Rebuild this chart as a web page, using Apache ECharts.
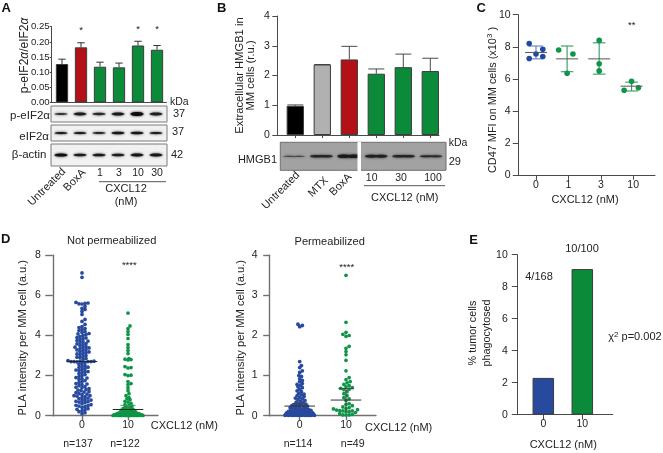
<!DOCTYPE html>
<html><head><meta charset="utf-8">
<style>html,body{margin:0;padding:0;background:#fff}#c{width:663px;height:453px}</style>
<script src="https://cdn.jsdelivr.net/npm/echarts@6/dist/echarts.min.js"></script></head>
<body><div id="c"></div>
<script>
// ---------- data ----------
const aLanes=['Untreated','BoxA','1','3','10','30'];
const aValues=[0.127,0.182,0.118,0.116,0.188,0.174];
const aErrTop=[0.143,0.197,0.133,0.130,0.202,0.188];
const aBlotP=[0.5,0.72,0.6,0.75,1,0.72];
const aBlotE=[0.75,0.75,0.65,0.85,0.85,0.75];
const aBlotB=[0.95,0.75,0.8,0.75,0.85,0.85];
const bLanes=['Untreated','MTX','BoxA','10','30','100'];
const bValues=[0.98,2.37,2.54,2.06,2.28,2.15];
const bErrTop=[1.01,2.37,2.98,2.22,2.72,2.58];
const bBlot=[0.35,0.7,1,0.8,0.7,0.62];
const cTicks=['0','1','3','10'];
const cPtsX=[-0.21,0.21,0,-0.21,0.21, 0.70,1.14,0.96, 1.95,1.95,1.95, 2.72,3.16,2.95];
const cPtsY=[8.2,7.85,7.55,7.27,7.4, 7.8,7.55,6.35, 8.4,6.95,6.5, 5.3,5.45,5.85];
const cMeans=[7.65,7.25,7.25,5.55];
const cHigh=[8.05,8.05,8.25,5.8];
const cLow=[7.25,6.45,6.3,5.25];
const cMeanX=[0,0.96,1.95,2.95];
const dLeft0=[7.12,6.9,5.65,5.62,5.6,5.58,5.57,5.45,5.35,5.3,5.2,5.05,4.8,4.7,4.55,4.45,4.4,4.35,4.3,4.25,4.2,4.15,4.1,4.08,4.05,4.0,3.95,3.9,3.88,3.85,3.8,3.75,3.72,3.7,3.65,3.6,3.58,3.55,3.5,3.45,3.42,3.4,3.38,3.35,3.3,3.28,3.25,3.2,3.18,3.15,3.1,3.08,3.05,3.0,2.95,2.92,2.9,2.85,2.8,2.75,2.72,2.72,2.7,2.7,2.7,2.7,2.68,2.65,2.6,2.55,2.5,2.45,2.42,2.4,2.35,2.3,2.28,2.25,2.2,2.2,2.15,2.1,2.05,2.0,1.95,1.9,1.88,1.85,1.8,1.75,1.7,1.65,1.6,1.58,1.55,1.5,1.45,1.42,1.4,1.35,1.3,1.28,1.25,1.2,1.18,1.15,1.1,1.08,1.05,1.0,1.0,0.98,0.95,0.9,0.88,0.85,0.8,0.78,0.75,0.72,0.7,0.68,0.65,0.6,0.55,0.5,0.48,0.45,0.42,0.35,0.3,0.25,0.2,0.15,0.1,0.32,0.52];
const dLeft10=[5.12,4.48,4.35,4.2,4.05,3.85,3.55,3.4,3.25,3.1,2.85,2.82,2.8,2.78,2.45,2.4,2.38,2.05,2.02,2.0,1.7,1.6,1.55,1.4,1.25,1.1,1.0,0.9,0.85,0.8,0.72,0.68,0.62,0.55,0.52,0.48,0.44,0.42,0.4,0.38,0.35,0.34,0.32,0.3,0.28,0.27,0.25,0.24,0.22,0.21,0.2,0.19,0.18,0.17,0.16,0.15,0.15,0.14,0.14,0.13,0.13,0.12,0.12,0.11,0.11,0.1,0.1,0.1,0.1,0.09,0.09,0.09,0.08,0.08,0.08,0.08,0.07,0.07,0.07,0.07,0.06,0.06,0.06,0.06,0.06,0.05,0.05,0.05,0.05,0.05,0.04,0.04,0.04,0.04,0.04,0.03,0.03,0.03,0.03,0.03,0.03,0.02,0.02,0.02,0.02,0.02,0.02,0.02,0.02,0.01,0.01,0.01,0.01,0.01,0.01,0.01,0.01,0.01,0.01,0.01,0.01,0.01];
const dRight0=[2.28,2.25,2.22,1.35,1.25,1.2,1.12,1.08,1.0,0.98,0.92,0.88,0.85,0.8,0.78,0.76,0.72,0.7,0.66,0.62,0.6,0.56,0.54,0.52,0.5,0.48,0.46,0.44,0.42,0.4,0.38,0.36,0.34,0.32,0.3,0.29,0.28,0.27,0.26,0.25,0.24,0.23,0.22,0.21,0.2,0.19,0.18,0.17,0.17,0.16,0.15,0.15,0.14,0.14,0.13,0.13,0.12,0.12,0.11,0.11,0.1,0.1,0.1,0.09,0.09,0.09,0.08,0.08,0.08,0.08,0.07,0.07,0.07,0.07,0.06,0.06,0.06,0.06,0.05,0.05,0.05,0.05,0.05,0.04,0.04,0.04,0.04,0.04,0.03,0.03,0.03,0.03,0.03,0.03,0.02,0.02,0.02,0.02,0.02,0.02,0.02,0.02,0.01,0.01,0.01,0.01,0.01,0.01,0.01,0.01,0.01,0.01,0.01,0.01];
const dRight10=[3.5,2.33,2.08,2.03,2.0,1.98,1.73,1.68,1.6,1.52,1.38,1.12,0.95,0.9,0.85,0.82,0.78,0.75,0.72,0.7,0.68,0.66,0.65,0.6,0.55,0.5,0.45,0.42,0.38,0.3,0.28,0.25,0.22,0.2,0.18,0.17,0.15,0.14,0.13,0.12,0.12,0.1,0.1,0.08,0.05,0.03,0.02,0.02,0.02];
const dTicks=['0','10'];
const dLeftMeans=[2.7,0.31];
const dLeftGreen=[0.22,0.52];
const dRightMeans=[0.24,0.39];
const dRightSd=[[0.18,0.3],[0.1,0.68]];
const eTicks=['0','10'];
const eValues=[2.3,9.1];

// ---------- colours ----------
const BLACK='#000',RED='#b21217',GREEN='#0b8a3a',GRAY='#b1b1b1',BLUE='#274a9e',INK='#232323',AX='#4a4a4a',EDGE='#3c3c3c';
const GRN2='#0f9547',BLU2='#2347a5';
const FF='"Liberation Sans",Arial,sans-serif';

// ---------- layout helpers ----------
const grid=[],xAxis=[],yAxis=[],series=[],graphic=[];
function panel(o){
  const i=grid.length, unit=o.band;
  grid.push({left:o.l,top:o.top,width:o.r-o.l,height:o.y0-o.top,show:!!o.bg,backgroundColor:o.bg||'transparent',borderColor:o.border||'#8a8a8a',borderWidth:o.bg?1:0});
  const min=(o.l-o.c0)/unit,max=(o.r-o.c0)/unit;
  const vals=(o.ticks||[]).map((_,k)=>k);
  const lw=o.alw||1;
  xAxis.push({gridIndex:i,type:'value',min,max,show:!o.bg,splitLine:{show:false},
    axisLine:{onZero:false,lineStyle:{color:o.axc||AX,width:lw}},
    axisTick:{show:!!o.tickX,length:o.xtl||4,lineStyle:{color:o.axc||AX,width:lw},customValues:vals},
    axisLabel:{show:!!o.ticks&&!o.noLab,fontSize:o.fs||10.5,color:INK,fontFamily:FF,margin:o.xm||5,customValues:vals,showMinLabel:true,showMaxLabel:true,hideOverlap:false,formatter:v=>(o.ticks||[])[Math.round(v)]||''}});
  yAxis.push({gridIndex:i,type:'value',min:o.ymin||0,max:o.ymax,interval:o.step,show:!o.bg,splitLine:{show:false},
    axisLine:{show:true,onZero:false,lineStyle:{color:o.axc||AX,width:lw}},
    axisTick:{show:true,length:o.ytl||5,lineStyle:{color:o.axc||AX,width:lw}},
    axisLabel:{fontSize:o.yfs||10.5,color:INK,fontFamily:FF,margin:o.ym||8,formatter:o.yfmt}});
  return i;
}
function bars(g,vals,cols,w,edge){
  series.push({type:'bar',xAxisIndex:g,yAxisIndex:g,barWidth:w,z:3,silent:true,
    data:vals.map((v,i)=>({value:[i,v],itemStyle:{color:cols[i],borderColor:edge||EDGE,borderWidth:1}}))});
}
function range(g,rows,color,cap,lw,z){ // rows: [x,lo,hi]
  series.push({type:'custom',xAxisIndex:g,yAxisIndex:g,z:z||4,silent:true,clip:false,
    encode:{x:0,y:[1,2]},data:rows,
    renderItem(p,api){
      const a=api.coord([api.value(0),api.value(1)]),b=api.coord([api.value(0),api.value(2)]);
      const st={stroke:color,lineWidth:lw||1,fill:null};
      const ch=[{type:'line',shape:{x1:b[0]-cap,y1:b[1],x2:b[0]+cap,y2:b[1]},style:st}];
      if(a[1]!==b[1]){ch.push({type:'line',shape:{x1:a[0],y1:a[1],x2:b[0],y2:b[1]},style:st});}
      return {type:'group',children:ch};
    }});
}
function topBars(vals,tops){return vals.map((v,i)=>[i,v,tops[i]]);}
function blot(g,intens,w,h,lobes,ink){
  series.push({type:'custom',xAxisIndex:g,yAxisIndex:g,z:3,silent:true,clip:true,
    encode:{x:0,y:1},data:intens.map((v,i)=>[i,0.5,v]),
    renderItem(p,api){
      const c=api.coord([api.value(0),api.value(1)]),v=api.value(2);
      const kids=[];
      const n=lobes||1;
      for(let k=0;k<n;k++){
        const dx=n>1?(k-(n-1)/2)*w*0.55:0, rx=(n>1?w*0.36:w/2), ry=h*v/2;
        kids.push({type:'ellipse',shape:{cx:c[0]+dx,cy:c[1],rx,ry},
          style:{fill:ink||'#0d0d0d',opacity:0.4+0.6*v,shadowBlur:2.5,shadowColor:ink||'#0d0d0d'}});
      }
      return {type:'group',children:kids};
    }});
}
// beeswarm layout: the allowed half-width narrows with the value (decay, in axis units)
function swarm(values,cx,pxY,pxX,d,capPx,decay){
  const placed=[],sorted=[...values].sort((a,b)=>a-b);
  sorted.forEach(v=>{
    const y=v*pxY;let best=null,bestD=-1;
    const cap=decay?Math.max(2.4,capPx*Math.exp(-v/decay)):capPx;
    for(let k=0;k<=Math.ceil(cap/(d/3))*2;k++){
      const off=(k%2?1:-1)*Math.ceil(k/2)*(d/3);
      let m=1e9;placed.forEach(q=>{m=Math.min(m,Math.hypot(q[0]-off,q[1]-y));});
      if(m>=d){best=off;bestD=m;break;}
      if(m>bestD){bestD=m;best=off;}
    }
    placed.push([best,y]);
  });
  return placed.map(q=>[cx+q[0]/pxX,q[1]/pxY]);
}
function dots(g,pts,color,size){
  series.push({type:'scatter',xAxisIndex:g,yAxisIndex:g,z:3,silent:true,clip:false,symbolSize:size,
    itemStyle:{color,opacity:1},data:pts});
}
function T(text,x,y,o){o=o||{};
  graphic.push({type:'text',x,y,rotation:o.rot||0,z:20,silent:true,style:{text,fontFamily:FF,fontSize:o.fs||10.5,
    fontWeight:o.bold?'bold':'normal',fill:o.color||INK,align:o.align||'center',verticalAlign:'middle',lineHeight:o.lh,rich:o.rich}});
}
function L(x1,y1,x2,y2,c,w){graphic.push({type:'line',z:20,silent:true,shape:{x1,y1,x2,y2},style:{stroke:c||AX,lineWidth:w||1}});}
const UP=Math.PI/2,DIAG=Math.PI/4;

// ---------- Panel A ----------
const gA=panel({l:51.7,r:166.5,c0:62,band:19,top:26.7,y0:102.5,ymax:0.25,step:0.05,yfs:9.6,ytl:2,ym:2,yfmt:v=>v.toFixed(2)});
bars(gA,aValues,[BLACK,RED,GREEN,GREEN,GREEN,GREEN],12.3);
range(gA,topBars(aValues,aErrTop),'#333',3.7,1,2);
const aCfg=[[106,122,aBlotP,4],[125,141,aBlotE,3],[144,166,aBlotB,3.4]];
aCfg.forEach(c=>{const g=panel({l:51,r:167,c0:61,band:19,top:c[0],y0:c[1],ymax:1,step:1,bg:'#f1f1f1',border:'#7b7b7b'});blot(g,c[2],13,c[3],1);});
const itRich={i:{fontStyle:'italic',fontSize:12,fontFamily:FF,fill:INK}};
T('p-eIF2{i|α}/eIF2{i|α}',24.5,55.5,{rot:UP,fs:12,rich:itRich});
[1,4,5].forEach((k,i)=>T('*',62+19*k,[30.5,29.5,29.5][i],{fs:9.5}));
T('kDa',170,101.7,{align:'left',fs:10.5});
T('p-eIF2α',50,115.7,{align:'right',fs:11.5});
T('eIF2α',49,136.7,{align:'right',fs:11.5});
T('β-actin',46.5,155,{align:'right',fs:11.5});
T('37',173,114,{align:'left',fs:11});T('37',172,132,{align:'left',fs:11});T('42',171,155,{align:'left',fs:11});
T(aLanes[0],64,170,{rot:DIAG,align:'right',fs:11});
T(aLanes[1],84,171,{rot:DIAG,align:'right',fs:11});
aLanes.slice(2).forEach((t,i)=>T(t,100+19*i,173.5));
L(99,181.7,166,181.7,'#555');
T('CXCL12',126,188.5,{fs:11});T('(nM)',126,201.5,{fs:11});
T('A',1.5,8.5,{bold:true,fs:13,align:'left',color:'#111'});

// ---------- Panel B ----------
const gB=panel({l:277.3,r:439,c0:295.3,band:27,top:16,y0:135,ymax:4,step:1,ticks:bLanes,tickX:true,xtl:3,noLab:true,yfs:10.5,ytl:5,ym:7.5});
bars(gB,bValues,[BLACK,GRAY,RED,GREEN,GREEN,GREEN],17.3);
range(gB,topBars(bValues,bErrTop),'#4a4a4a',8,1,2);
T('Extracellular HMGB1 in',239.5,75.5,{rot:UP,fs:11.2});
T('MM cells (r.u.)',251,75.5,{rot:UP,fs:11.2});
const gBb=panel({l:280.3,r:446,c0:294,band:27.4,top:142.3,y0:170.3,ymax:1,step:1,bg:'#a2a2a2',border:'#6f6f6f'});
blot(gBb,bBlot,18,3.6,2,'#1a1a1a');
graphic.push({type:'rect',z:19,silent:true,shape:{x:357.5,y:142,width:3.5,height:29},style:{fill:'#fff'}});
T('HMGB1',277,160,{align:'right',fs:11});
T('kDa',448.7,142.7,{align:'left',fs:10.5});
T('29',448.7,162,{align:'left',fs:11});
T(bLanes[0],298,173.5,{rot:DIAG,align:'right',fs:11});
T(bLanes[1],326.5,179,{rot:DIAG,align:'right',fs:11});
T(bLanes[2],350,175.5,{rot:DIAG,align:'right',fs:11});
[[3,371.7],[4,401],[5,433]].forEach(a=>T(bLanes[a[0]],a[1],177.7));
L(364,185.7,445,185.7,'#555');
T('CXCL12 (nM)',404.7,197.5,{fs:11});
T('B',217,8.5,{bold:true,fs:13,align:'left',color:'#111'});

// ---------- Panel C ----------
const gC=panel({l:518.3,r:655,c0:536,band:32.4,top:14.7,y0:175.3,ymax:10,step:2,ticks:cTicks,tickX:true,xtl:4.5,xm:4,ytl:5.5,ym:7.7});
dots(gC,cPtsX.slice(0,5).map((x,i)=>[x,cPtsY[i]]),BLU2,5.6);
dots(gC,cPtsX.slice(5).map((x,i)=>[x,cPtsY[i+5]]),GRN2,5.6);
range(gC,[[0,cLow[0],cHigh[0]],[0,cLow[0],cLow[0]]],'#5f7fc0',6.8,1.1,2);
cMeanX.slice(1).forEach((x,k)=>range(gC,[[x,cLow[k+1],cHigh[k+1]],[x,cLow[k+1],cLow[k+1]]],'#2f9c5b',6.3,1.1,2));
range(gC,cMeanX.map((x,i)=>[x,cMeans[i],cMeans[i]]),'#555',11,1,5);
T('CD47 MFI on MM cells (x10{s|3} )',492.7,100,{rot:UP,fs:10.9,rich:{s:{fontSize:8,verticalAlign:'top',fontFamily:FF,fill:INK,padding:[0,0,6,0]}}});
T('**',631.7,25.5,{fs:9.5});
T('CXCL12 (nM)',585,200,{fs:11});
T('C',476.5,8.5,{bold:true,fs:13,align:'left',color:'#111'});

// ---------- Panel D ----------
const DAX='#707070';
const gD1=panel({l:52.8,r:158,c0:82,band:46,top:255.3,y0:415.7,ymax:8,step:2,ticks:dTicks,tickX:true,xtl:4.5,xm:4,ytl:7.5,ym:12,axc:DAX,alw:1.4});
dots(gD1,swarm(dLeft0,0,20,46,3.0,15.2),BLUE,3.7);
dots(gD1,swarm(dLeft10,1,20,46,3.0,15.5,0.3),GRN2,3.7);
range(gD1,dLeftMeans.map((m,i)=>[i,m,m]),'#222',15.3,1,6);
range(gD1,[[1,dLeftGreen[0],dLeftGreen[1]]],'#2f9c5b',7.5,1,5);
const gD2=panel({l:269.7,r:376,c0:299.7,band:46.3,top:255.3,y0:415.7,ymax:4,step:1,ticks:dTicks,tickX:true,xtl:4.5,xm:4,ytl:6.5,ym:12,axc:DAX,alw:1.4});
dots(gD2,swarm(dRight0,0,40,46.3,2.6,14.5,0.4),BLUE,3.8);
dots(gD2,swarm(dRight10,1,40,46.3,3.15,15.5),GRN2,3.7);
range(gD2,dRightMeans.map((m,i)=>[i,m,m]),'#333',15.3,1,6);
range(gD2,dRightSd.map((s,i)=>[i,s[0],s[1]]),'#444',7.7,0.9,5);
T('Not permeabilized',111.7,241,{fs:11.1});
T('Permeabilized',329.7,242,{fs:11.1});
T('PLA intensity per MM cell (a.u.)',22.7,337.7,{rot:UP,fs:11.2});
T('PLA intensity per MM cell (a.u.)',240.7,337.7,{rot:UP,fs:11.2});
T('CXCL12 (nM)',150.7,426,{align:'left',fs:11});
T('CXCL12 (nM)',365,427.5,{align:'left',fs:11});
T('n=137',78,444);T('n=122',125,444);T('n=114',298,444);T('n=49',352.7,444);
T('****',129.3,265.5,{fs:9.5});T('****',346.7,267,{fs:9.5});
T('D',1,239,{bold:true,fs:13,align:'left',color:'#111'});

// ---------- Panel E ----------
const gE=panel({l:517.3,r:612.7,c0:543.3,band:39,top:254.7,y0:414.7,ymax:10,step:2,ticks:eTicks,tickX:true,xtl:5,xm:4,ytl:5.5,ym:9.5});
bars(gE,eValues,[BLUE,GREEN],21.5);
T('% tumor cells',473,333,{rot:UP,fs:10.8});
T('phagocytosed',487,333,{rot:UP,fs:10.8});
T('4/168',539,276.7,{fs:11});T('10/100',582,249.3,{fs:11});
T('χ{s|2} p=0.002',608.3,336.7,{align:'left',fs:11,rich:{s:{fontSize:8,verticalAlign:'top',fontFamily:FF,fill:INK}}});
T('CXCL12 (nM)',563.3,445.3,{fs:11});
T('E',469.3,240.7,{bold:true,fs:13,align:'left',color:'#111'});

const chart=echarts.init(document.getElementById('c'),null,{renderer:'canvas'});
chart.setOption({animation:false,backgroundColor:'#fff',grid,xAxis,yAxis,series,graphic});
</script></body></html>
